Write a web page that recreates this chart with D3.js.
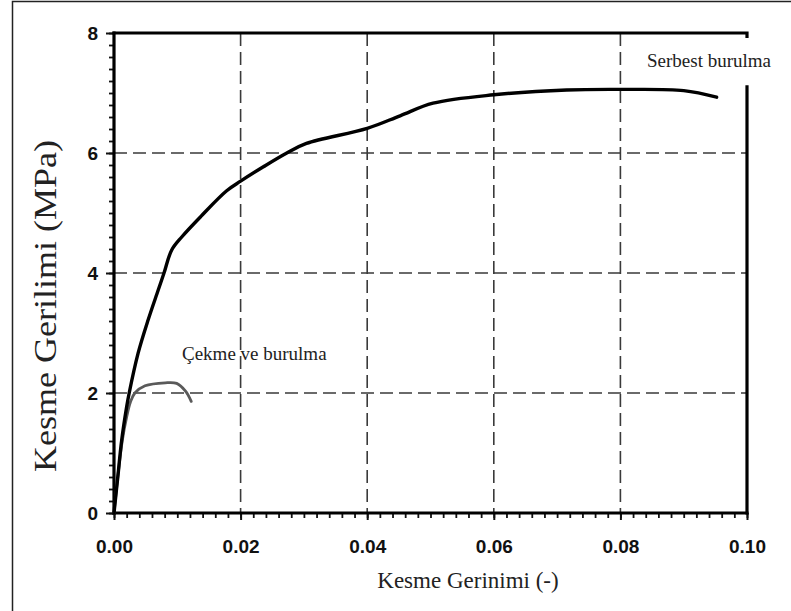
<!DOCTYPE html>
<html>
<head>
<meta charset="utf-8">
<script src="https://cdn.jsdelivr.net/npm/d3@7"></script>
<style>
  body { margin: 0; background: #fff; }
  svg { display: block; }
</style>
</head>
<body>
<div id="chart"></div>
<script>
// Data

const serbestStrain = [0, 0.0006, 0.0012, 0.0020, 0.0024, 0.0038, 0.0054, 0.0070, 0.0079, 0.0091, 0.0107, 0.0137, 0.0178, 0.0200, 0.0236, 0.0273, 0.0304, 0.0400, 0.0452, 0.0504, 0.0600, 0.0715, 0.0800, 0.0900, 0.0952];
const serbestStress = [0, 0.6, 1.2, 1.77, 2.0, 2.66, 3.22, 3.72, 4.0, 4.38, 4.6, 4.94, 5.37, 5.53, 5.77, 6.0, 6.16, 6.41, 6.62, 6.83, 6.97, 7.05, 7.06, 7.04, 6.93];

const cekmeStrain = [0, 0.0006, 0.0013, 0.0020, 0.0026, 0.0033, 0.0049, 0.0081, 0.0099, 0.0113, 0.0122];
const cekmeStress = [0, 0.6, 1.2, 1.6, 1.85, 2.0, 2.12, 2.17, 2.16, 2.03, 1.86];

const xTicks = [0, 0.02, 0.04, 0.06, 0.08, 0.10];
const yTicks = [0, 2, 4, 6, 8];

const serbest = serbestStrain.map((d, i) => ({ x: d, y: serbestStress[i] }));
const cekme = cekmeStrain.map((d, i) => ({ x: d, y: cekmeStress[i] }));

// Dimensions

const W = 791, H = 611;
const margin = { top: 33, right: 44, bottom: 98, left: 114 };
const width = W - margin.left - margin.right;
const height = H - margin.top - margin.bottom;

const x = d3.scaleLinear().domain([0, 0.1]).range([0, width]);
const y = d3.scaleLinear().domain([0, 8]).range([height, 0]);

const root = d3.select("#chart")
  .append("svg")
    .attr("width", W)
    .attr("height", H);

// outer frame (only left and top edges are visible)
root.append("rect")
  .attr("x", 12.5).attr("y", 1.5)
  .attr("width", W).attr("height", H)
  .attr("fill", "none")
  .attr("stroke", "#222")
  .attr("stroke-width", 1.5);

const svg = root.append("g")
  .attr("transform", `translate(${margin.left},${margin.top})`);

// gridlines
svg.selectAll(".xGrid")
  .data(xTicks.slice(1, -1))
  .join("line")
  .attr("x1", d => x(d)).attr("x2", d => x(d))
  .attr("y1", 0).attr("y2", height)
  .attr("stroke", "#3a3a3a")
  .attr("stroke-width", 1.6)
  .attr("stroke-dasharray", "13,6");

svg.selectAll(".yGrid")
  .data(yTicks.slice(1, -1))
  .join("line")
  .attr("x1", 0).attr("x2", width)
  .attr("y1", d => y(d)).attr("y2", d => y(d))
  .attr("stroke", "#3a3a3a")
  .attr("stroke-width", 1.6)
  .attr("stroke-dasharray", "13,6");

// minor ticks
svg.append("g")
  .attr("transform", `translate(0,${height})`)
  .call(d3.axisBottom(x).tickValues(d3.range(0, 51).map(i => i * 0.002)).tickSize(5).tickFormat(""))
  .call(g => g.select(".domain").remove())
  .call(g => g.selectAll("line").attr("stroke", "#111").attr("stroke-width", 1.8));

svg.append("g")
  .call(d3.axisLeft(y).tickValues(d3.range(0, 41).map(i => i * 0.2)).tickSize(5).tickFormat(""))
  .call(g => g.select(".domain").remove())
  .call(g => g.selectAll("line").attr("stroke", "#111").attr("stroke-width", 1.8));

// major ticks + labels
svg.append("g")
  .attr("transform", `translate(0,${height})`)
  .call(d3.axisBottom(x).tickValues(xTicks).tickSize(7).tickFormat(d3.format(".2f")))
  .call(g => g.select(".domain").remove())
  .call(g => g.selectAll("line").attr("stroke", "#111").attr("stroke-width", 2))
  .call(g => g.selectAll("text")
    .attr("y", 40).attr("dy", 0)
    .attr("fill", "#111")
    .style("font", "bold 19px 'Liberation Sans', Arial, sans-serif"));

svg.append("g")
  .call(d3.axisLeft(y).tickValues(yTicks).tickSize(8).tickFormat(d3.format("d")))
  .call(g => g.select(".domain").remove())
  .call(g => g.selectAll("line").attr("stroke", "#111").attr("stroke-width", 2))
  .call(g => g.selectAll("text")
    .attr("x", -16).attr("dy", "0.36em")
    .attr("fill", "#111")
    .style("font", "bold 19px 'Liberation Sans', Arial, sans-serif"));

// frame lines
const frame = svg.append("g")
  .attr("stroke", "#000")
  .attr("stroke-width", 3.2)
  .attr("fill", "none");

frame.append("line").attr("x1", 0).attr("x2", 0).attr("y1", -1.5).attr("y2", height + 1.5);
frame.append("line").attr("x1", -1.5).attr("x2", width + 1.5).attr("y1", height).attr("y2", height);
frame.append("path")
  .attr("d", `M${-1.5},${y(8)}H${x(0.1)}V${y(8) + 5}`);
frame.append("line")
  .attr("x1", x(0.1)).attr("x2", x(0.1))
  .attr("y1", y(7.13)).attr("y2", height + 1.5);

// curves
const line = d3.line()
  .x(d => x(d.x))
  .y(d => y(d.y))
  .curve(d3.curveCatmullRom.alpha(0.5));

svg.append("path")
  .datum(cekme)
  .attr("fill", "none")
  .attr("stroke", "#5a5a5a")
  .attr("stroke-width", 2.8)
  .attr("stroke-linecap", "round")
  .attr("d", line);

svg.append("path")
  .datum(serbest)
  .attr("fill", "none")
  .attr("stroke", "#000")
  .attr("stroke-width", 3.4)
  .attr("stroke-linecap", "round")
  .attr("d", line);

// series labels
const serif = "'Liberation Serif', 'Times New Roman', serif";

root.append("text")
  .attr("x", 647).attr("y", 67)
  .attr("fill", "#222")
  .style("font", `19px ${serif}`)
  .text("Serbest burulma");

root.append("text")
  .attr("x", 182).attr("y", 360)
  .attr("fill", "#222")
  .style("font", `19px ${serif}`)
  .text("Çekme ve burulma");

// axis titles
root.append("text")
  .attr("x", 468).attr("y", 588)
  .attr("text-anchor", "middle")
  .attr("fill", "#222")
  .style("font", `23px ${serif}`)
  .text("Kesme Gerinimi (-)");

root.append("text")
  .attr("transform", "translate(56,306) rotate(-90)")
  .attr("text-anchor", "middle")
  .attr("fill", "#222")
  .attr("textLength", 332)
  .attr("lengthAdjust", "spacingAndGlyphs")
  .style("font", `32px ${serif}`)
  .text("Kesme Gerilimi (MPa)");
</script>
</body>
</html>
